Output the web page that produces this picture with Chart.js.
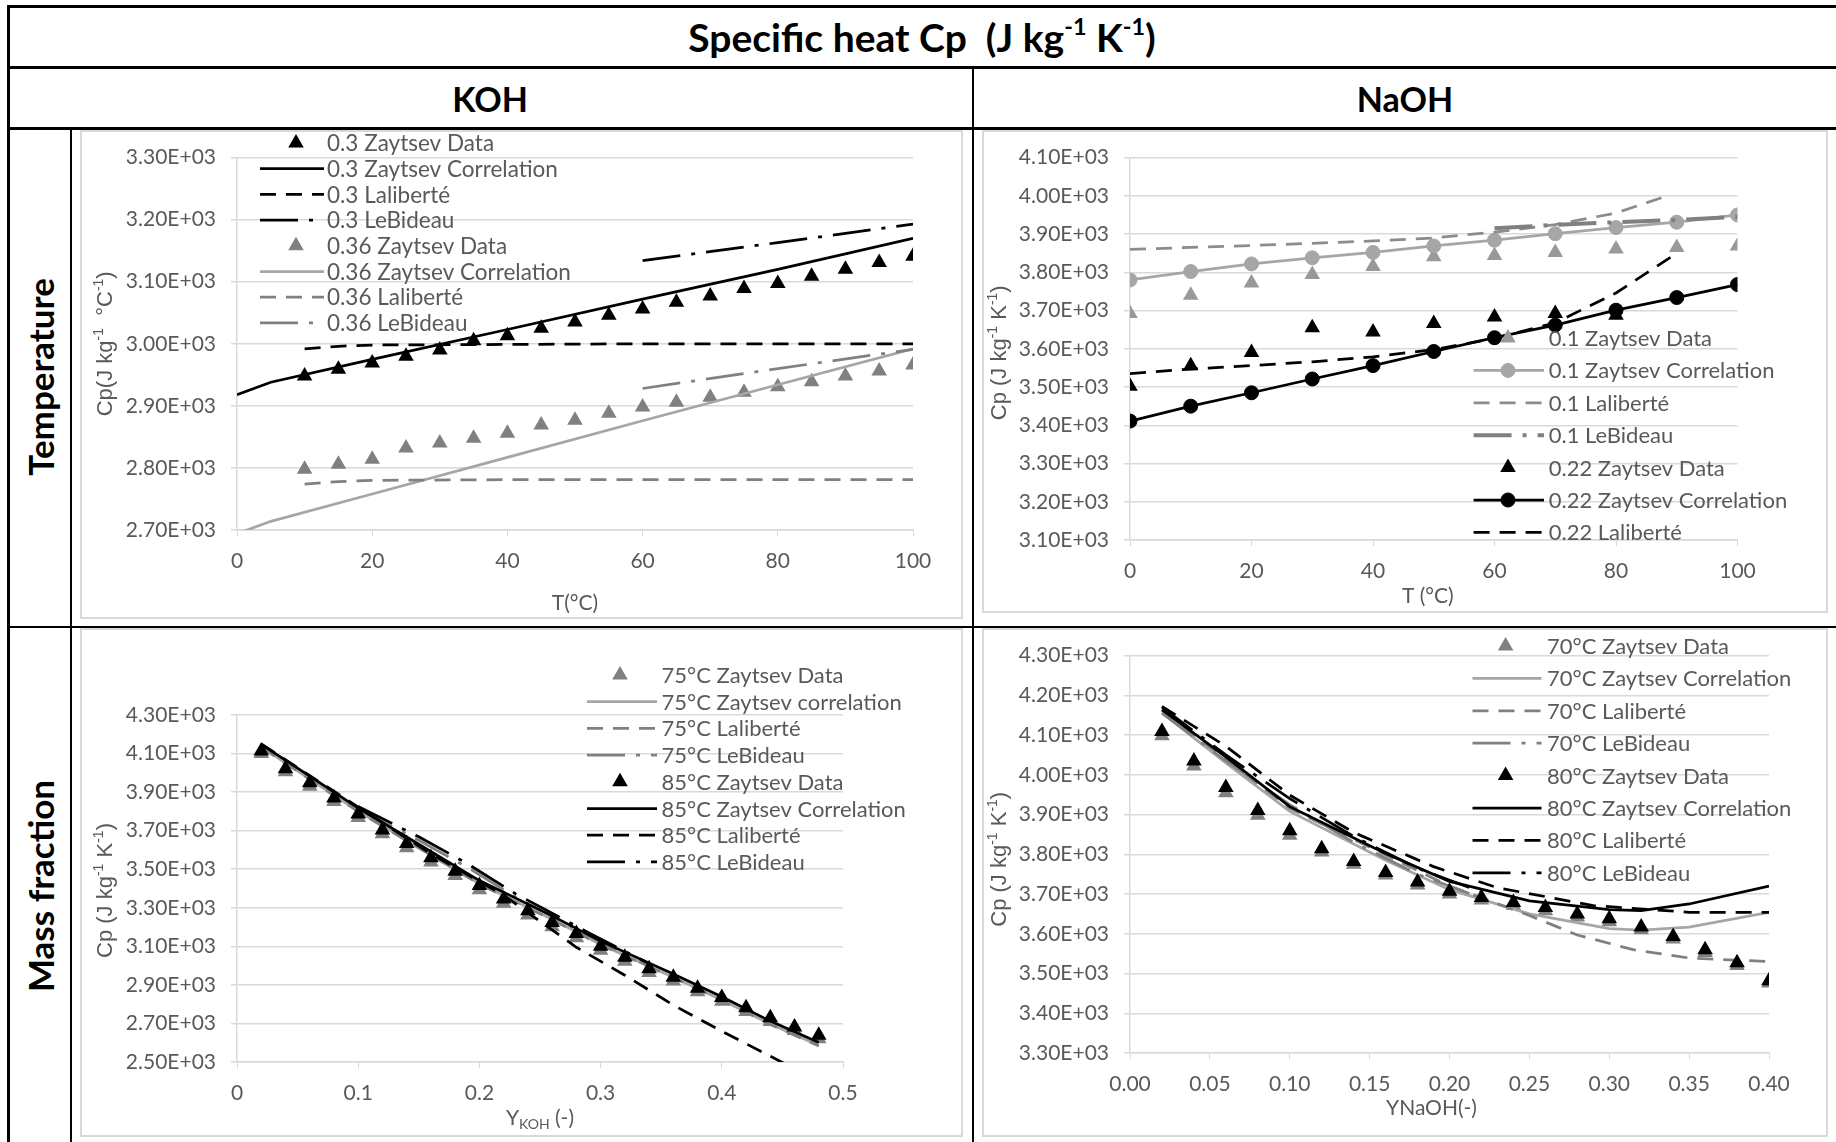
<!DOCTYPE html>
<html>
<head>
<meta charset="utf-8">
<script src="https://cdn.jsdelivr.net/npm/chart.js@4.4.0/dist/chart.umd.min.js"></script>
<style>
  body { margin:0; width:1836px; height:1142px; background:#fff; position:relative; overflow:hidden; font-family:Lato, sans-serif; }
  .ln { position:absolute; background:#000; }
  .box { position:absolute; border:2px solid #d9d9d9; box-sizing:border-box; pointer-events:none; }
  canvas { position:absolute; }
  .cell { position:absolute; display:flex; align-items:center; justify-content:center; font-weight:bold; color:#000; white-space:nowrap; }
  .cell sup { font-size:0.6em; position:relative; top:-0.45em; vertical-align:baseline; line-height:0; }
  .rot { transform:rotate(-90deg); }
</style>
</head>
<body>

<!-- table frame -->
<div class="ln" style="left:7px;top:5px;width:1829px;height:3px"></div>
<div class="ln" style="left:7px;top:5px;width:3px;height:1137px"></div>
<div class="ln" style="left:7px;top:66px;width:1829px;height:3px"></div>
<div class="ln" style="left:7px;top:127px;width:1829px;height:3px"></div>
<div class="ln" style="left:7px;top:626px;width:1829px;height:2px"></div>
<div class="ln" style="left:70px;top:128px;width:2px;height:1014px"></div>
<div class="ln" style="left:972px;top:67px;width:2px;height:1075px"></div>

<div class="cell" style="left:8px;top:8px;width:1828px;height:58px;font-size:39px">Specific heat Cp&nbsp; (J kg<sup>-1</sup>&nbsp;K<sup>-1</sup>)</div>
<div class="cell" style="left:8px;top:69px;width:964px;height:58px;font-size:34px">KOH</div>
<div class="cell" style="left:974px;top:69px;width:862px;height:58px;font-size:34px">NaOH</div>
<div class="cell rot" style="left:-210px;top:357px;width:500px;height:40px;font-size:35px">Temperature</div>
<div class="cell rot" style="left:-210px;top:866px;width:500px;height:40px;font-size:35px">Mass fraction</div>

<canvas id="c1" width="883" height="489" style="left:80px;top:130px"></canvas>
<canvas id="c2" width="846" height="483" style="left:982px;top:130px"></canvas>
<canvas id="c3" width="883" height="509" style="left:80px;top:628px"></canvas>
<canvas id="c4" width="846" height="509" style="left:982px;top:628px"></canvas>
<div class="box" style="left:80px;top:130px;width:883px;height:489px"></div>
<div class="box" style="left:982px;top:130px;width:846px;height:483px"></div>
<div class="box" style="left:80px;top:628px;width:883px;height:509px"></div>
<div class="box" style="left:982px;top:628px;width:846px;height:509px"></div>

<script>
// ---- KOH vs temperature ----
const tKOH = [10,15,20,25,30,35,40,45,50,55,60,65,70,75,80,85,90,95,100];
const koh30Data = [2948,2959,2969,2980,2990,3005,3013,3025,3035,3046,3056,3067,3077,3089,3097,3109,3120,3131,3141];
const koh36Data = [2798,2806,2814,2832,2840,2848,2856,2869,2877,2888,2898,2906,2914,2922,2931,2939,2948,2956,2966];
const tKOHCorr = [0,5,20,40,60,80,100];
const koh30Corr = [2918,2938,2975,3023,3072,3120,3170];
const koh36Corr = [2694,2714,2758,2817,2876,2934,2992];
const tKOHLal = [10,15,20,40,60,80,100];
const koh30Lal = [2992,2996,2998,2999,3000,3000,3000];
const koh36Lal = [2774,2778,2780,2781,2781,2781,2781];
const tKOHLeB = [60,80,100];
const koh30LeB = [3134,3163,3193];
const koh36LeB = [2928,2960,2991];

// ---- NaOH vs temperature ----
const tNa = [0,10,20,30,40,50,60,70,80,90,100];
const na10Data = [3692,3740,3772,3794,3815,3841,3844,3852,3861,3865,3869];
const na10Corr = [3780,3802,3822,3838,3852,3869,3884,3901,3917,3931,3950];
const tNaLal10 = [0,10,20,30,40,50,60,70,80,89];
const na10Lal = [3860,3865,3870,3876,3882,3890,3905,3925,3955,4003];
const tNaLeB = [60,70,80,90,100];
const na10LeB = [3915,3924,3931,3937,3945];
const tNaData22 = [0,10,20,30,40,50,60,70,80];
const na22Data = [3502,3556,3590,3655,3644,3666,3683,3692,3688];
const na22Corr = [3411,3450,3485,3521,3556,3593,3629,3662,3701,3734,3768];
const tNaLal22 = [0,10,20,30,40,50,60,70,80,90];
const na22Lal = [3535,3547,3556,3566,3579,3598,3627,3668,3746,3850];

// ---- KOH vs mass fraction ----
const yKOH = [0.02,0.04,0.06,0.08,0.10,0.12,0.14,0.16,0.18,0.20,0.22,0.24,0.26,0.28,0.30,0.32,0.34,0.36,0.38,0.40,0.42,0.44,0.46,0.48];
const k75Data = [4100,4005,3930,3851,3768,3684,3612,3538,3468,3393,3323,3262,3201,3144,3080,3022,2964,2920,2864,2815,2762,2710,2663,2620];
const k85Data = [4113,4021,3948,3869,3787,3703,3633,3560,3490,3415,3345,3284,3223,3166,3101,3043,2984,2939,2883,2834,2782,2729,2682,2639];
const yKOHCorr = [0.02,0.06,0.10,0.14,0.20,0.26,0.30,0.36,0.40,0.44,0.48];
const k75Corr = [4135,3968,3800,3650,3425,3240,3110,2940,2822,2697,2585];
const k85Corr = [4148,3983,3817,3667,3441,3258,3127,2956,2839,2712,2601];
const k75Lal = [4133,3966,3799,3648,3423,3238,3108,2938,2820,2695,2583];
const yKOHLal85 = [0.02,0.10,0.16,0.22,0.26,0.28,0.32,0.36,0.40,0.44,0.48];
const k85Lal = [4150,3822,3580,3365,3185,3095,2950,2795,2660,2530,2400];
const yKOHLeB = [0.10,0.15,0.19,0.23,0.29,0.34];
const k75LeB = [3810,3650,3510,3355,3155,2995];
const k85LeB = [3825,3668,3529,3372,3171,3010];

// ---- NaOH vs mass fraction ----
const yNa = [0.02,0.04,0.06,0.08,0.10,0.12,0.14,0.16,0.18,0.20,0.22,0.24,0.26,0.28,0.30,0.32,0.34,0.36,0.38,0.40];
const n70Data = [4098,4022,3955,3898,3848,3806,3775,3748,3723,3700,3685,3672,3658,3642,3630,3610,3587,3553,3520,3476];
const n80Data = [4109,4035,3968,3910,3859,3814,3782,3754,3730,3707,3691,3679,3666,3650,3638,3617,3593,3560,3527,3482];
const yNaCorr = [0.02,0.06,0.10,0.16,0.20,0.25,0.30,0.32,0.35,0.40];
const n70Corr = [4156,4030,3908,3785,3711,3650,3613,3609,3617,3654];
const n80Corr = [4164,4045,3920,3802,3732,3683,3661,3658,3675,3720];
const yNaLal70 = [0.02,0.10,0.20,0.25,0.28,0.315,0.35,0.40];
const n70Lal = [4162,3916,3720,3646,3597,3560,3539,3530];
const yNaLal80 = [0.02,0.06,0.10,0.14,0.19,0.23,0.29,0.35,0.40];
const n80Lal = [4172,4072,3949,3855,3769,3716,3671,3654,3654];
const yNaLeB = [0.02,0.06,0.10,0.14,0.18,0.22];
const n70LeB = [4155,4035,3925,3830,3750,3690];
const n80LeB = [4170,4050,3940,3845,3765,3705];

const BLACK = '#000000', GREY = '#808080', LIGHT = '#a6a6a6', TXT = '#595959';
const DASH = [16, 10], DASHDOT = [38, 11, 4, 11];
const TICK_FONT = { family: 'Lato', size: 21 };

function pts(xs, ys) { return xs.map((x, i) => ({ x: x, y: ys[i] })); }

function marks(label, xs, ys, color) {
  return { label, data: pts(xs, ys), showLine: false, pointStyle: 'triangle', pointRadius: 9,
    pointBackgroundColor: color, pointBorderColor: color, pointBorderWidth: 0, borderColor: color };
}
function line(label, xs, ys, color, dash, extra) {
  return Object.assign({ label, data: pts(xs, ys), showLine: true, borderColor: color, borderWidth: 2.75,
    borderDash: dash || [], pointRadius: 0, tension: 0 }, extra || {});
}
function withCircles(color) {
  return { pointStyle: 'circle', pointRadius: 7, pointBackgroundColor: color, pointBorderColor: color, pointBorderWidth: 1 };
}

function sci(v) {
  return v.toExponential(2).toUpperCase().replace(/E([+-])(\d)$/, 'E$10$2');
}

// draws text with super/subscript pieces, centred on (cx, cy)
function drawRich(ctx, parts, cx, cy, rot, size, family, color) {
  ctx.save();
  ctx.translate(cx, cy);
  ctx.rotate(rot);
  ctx.fillStyle = color;
  ctx.textBaseline = 'alphabetic';
  ctx.textAlign = 'left';
  const fonts = parts.map(p => (p.s ? Math.round(size * 0.65) : size) + 'px ' + family);
  let total = 0;
  const widths = parts.map((p, i) => { ctx.font = fonts[i]; const w = ctx.measureText(p.t).width; total += w; return w; });
  let x = -total / 2;
  parts.forEach((p, i) => {
    ctx.font = fonts[i];
    const dy = p.s === 'sup' ? -size * 0.4 : p.s === 'sub' ? size * 0.22 : 0;
    ctx.fillText(p.t, x, size * 0.36 + dy);
    x += widths[i];
  });
  ctx.restore();
}

const cellLegend = {
  id: 'cellLegend',
  afterDatasetsDraw(chart, args, o) {
    const ctx = chart.ctx;
    ctx.save();
    chart.data.datasets.forEach((ds, i) => {
      const y = o.y + i * o.dy;
      if (ds.showLine) {
        ctx.beginPath();
        ctx.setLineDash(ds.borderDash || []);
        ctx.lineWidth = ds.borderWidth;
        ctx.strokeStyle = ds.borderColor;
        ctx.moveTo(o.x, y);
        ctx.lineTo(o.x + o.w, y);
        ctx.stroke();
        ctx.setLineDash([]);
      }
      if (ds.pointRadius > 0) {
        ctx.fillStyle = ds.pointBackgroundColor;
        ctx.strokeStyle = ds.pointBorderColor;
        ctx.lineWidth = ds.pointBorderWidth;
        Chart.helpers.drawPoint(ctx, { pointStyle: ds.pointStyle, radius: ds.pointRadius, borderWidth: ds.pointBorderWidth, rotation: 0 }, o.mx, y);
      }
      ctx.fillStyle = TXT;
      ctx.font = o.size + 'px Lato';
      ctx.textBaseline = 'middle';
      ctx.textAlign = 'left';
      ctx.fillText(ds.label, o.tx, y + 1);
    });
    ctx.restore();
  }
};

const axisTitles = {
  id: 'axisTitles',
  afterDraw(chart, args, o) {
    const a = chart.chartArea, ctx = chart.ctx;
    drawRich(ctx, o.x.parts, (a.left + a.right) / 2 + (o.x.dx || 0), a.bottom + o.x.dy, 0, 21, 'Lato', TXT);
    drawRich(ctx, o.y.parts, o.y.x, (a.top + a.bottom) / 2 + (o.y.dy || 0), -Math.PI / 2, 22, '"Liberation Sans"', TXT);
  }
};

function makeChart(id, datasets, c) {
  datasets.forEach((d, i) => { d.order = datasets.length - i; });
  return new Chart(document.getElementById(id), {
    type: 'scatter',
    data: { datasets },
    options: {
      responsive: false, animation: false, devicePixelRatio: 1, events: [],
      layout: { padding: { top: c.padTop, right: c.padRight, left: 0, bottom: 0 } },
      plugins: { legend: { display: false }, tooltip: { enabled: false }, cellLegend: c.legend, axisTitles: c.titles },
      scales: {
        x: {
          type: 'linear', min: c.xMin, max: c.xMax,
          afterFit: s => { s.height = c.xH; },
          grid: { drawOnChartArea: false, color: '#d9d9d9', tickLength: 6 },
          border: { color: '#d9d9d9', width: 1.5 },
          ticks: { stepSize: c.xStep, padding: 13, color: TXT, font: TICK_FONT, maxRotation: 0, autoSkip: false, callback: c.xFmt }
        },
        y: {
          type: 'linear', min: c.yMin, max: c.yMax,
          afterFit: s => { s.width = c.yW; },
          grid: { color: '#d9d9d9', lineWidth: 1.5, tickLength: 6 },
          border: { color: '#d9d9d9', width: 1.5 },
          ticks: { stepSize: c.yStep, padding: 15, color: TXT, font: TICK_FONT, autoSkip: false, callback: v => sci(v) }
        }
      }
    },
    plugins: [cellLegend, axisTitles]
  });
}

const cpC = [{ t: 'Cp(J kg' }, { t: '-1', s: 'sup' }, { t: '  °C' }, { t: '-1', s: 'sup' }, { t: ')' }];
const cpK = [{ t: 'Cp (J kg' }, { t: '-1', s: 'sup' }, { t: ' K' }, { t: '-1', s: 'sup' }, { t: ')' }];

makeChart('c1', [
  marks('0.3 Zaytsev Data', tKOH, koh30Data, BLACK),
  line('0.3 Zaytsev Correlation', tKOHCorr, koh30Corr, BLACK),
  line('0.3 Laliberté', tKOHLal, koh30Lal, BLACK, DASH),
  line('0.3 LeBideau', tKOHLeB, koh30LeB, BLACK, DASHDOT),
  marks('0.36 Zaytsev Data', tKOH, koh36Data, GREY),
  line('0.36 Zaytsev Correlation', tKOHCorr, koh36Corr, LIGHT),
  line('0.36 Laliberté', tKOHLal, koh36Lal, GREY, DASH),
  line('0.36 LeBideau', tKOHLeB, koh36LeB, GREY, DASHDOT)
], {
  padTop: 21, padRight: 50, xH: 89, yW: 157,
  xMin: 0, xMax: 100, xStep: 20, xFmt: v => String(v),
  yMin: 2700, yMax: 3300, yStep: 100,
  legend: { x: 180, w: 64, mx: 216, tx: 247, y: 13, dy: 25.7, size: 22.5 },
  titles: { x: { parts: [{ t: 'T(°C)' }], dy: 72 }, y: { parts: cpC, x: 24 } }
});

makeChart('c2', [
  marks('0.1 Zaytsev Data', tNa, na10Data, '#999999'),
  line('0.1 Zaytsev Correlation', tNa, na10Corr, LIGHT, [], withCircles(LIGHT)),
  line('0.1 Laliberté', tNaLal10, na10Lal, '#8c8c8c', DASH),
  line('0.1 LeBideau', tNaLeB, na10LeB, GREY, DASHDOT, { borderWidth: 4 }),
  marks('0.22 Zaytsev Data', tNaData22, na22Data, BLACK),
  line('0.22 Zaytsev Correlation', tNa, na22Corr, BLACK, [], withCircles(BLACK)),
  line('0.22 Laliberté', tNaLal22, na22Lal, BLACK, DASH)
], {
  padTop: 24, padRight: 90.5, xH: 73, yW: 148,
  xMin: 0, xMax: 100, xStep: 20, xFmt: v => String(v),
  yMin: 3100, yMax: 4100, yStep: 100,
  legend: { x: 491.6, w: 70.4, mx: 526, tx: 566.7, y: 208, dy: 32.4, size: 22 },
  titles: { x: { parts: [{ t: 'T (°C)' }], dy: 55, dx: -6 }, y: { parts: cpK, x: 16, dy: 4 } }
});

makeChart('c3', [
  marks('75°C Zaytsev Data', yKOH, k75Data, GREY),
  line('75°C Zaytsev correlation', yKOHCorr, k75Corr, LIGHT),
  line('75°C Laliberté', yKOHCorr, k75Lal, GREY, DASH),
  line('75°C LeBideau', yKOHLeB, k75LeB, GREY, DASHDOT),
  marks('85°C Zaytsev Data', yKOH, k85Data, BLACK),
  line('85°C Zaytsev Correlation', yKOHCorr, k85Corr, BLACK),
  line('85°C Laliberté', yKOHLal85, k85Lal, BLACK, DASH),
  line('85°C LeBideau', yKOHLeB, k85LeB, BLACK, DASHDOT)
], {
  padTop: 87, padRight: 120, xH: 75, yW: 157,
  xMin: 0, xMax: 0.5, xStep: 0.1, xFmt: v => String(Number(v.toFixed(2))),
  yMin: 2500, yMax: 4300, yStep: 200,
  legend: { x: 507, w: 70, mx: 540, tx: 581.5, y: 47, dy: 26.7, size: 22 },
  titles: { x: { parts: [{ t: 'Y' }, { t: 'KOH', s: 'sub' }, { t: ' (-)' }], dy: 55 }, y: { parts: cpK, x: 24, dy: 2 } }
});

makeChart('c4', [
  marks('70°C Zaytsev Data', yNa, n70Data, GREY),
  line('70°C Zaytsev Correlation', yNaCorr, n70Corr, LIGHT),
  line('70°C Laliberté', yNaLal70, n70Lal, GREY, DASH),
  line('70°C LeBideau', yNaLeB, n70LeB, GREY, DASHDOT),
  marks('80°C Zaytsev Data', yNa, n80Data, BLACK),
  line('80°C Zaytsev Correlation', yNaCorr, n80Corr, BLACK),
  line('80°C Laliberté', yNaLal80, n80Lal, BLACK, DASH),
  line('80°C LeBideau', yNaLeB, n80LeB, BLACK, DASHDOT)
], {
  padTop: 15, padRight: 59, xH: 84, yW: 148,
  xMin: 0, xMax: 0.4, xStep: 0.05, xFmt: v => v.toFixed(2),
  yMin: 3300, yMax: 4300, yStep: 100,
  legend: { x: 490.5, w: 69, mx: 523.6, tx: 565, y: 18, dy: 32.4, size: 22 },
  titles: { x: { parts: [{ t: 'YNaOH(-)' }], dy: 54, dx: -18 }, y: { parts: cpK, x: 16, dy: 5 } }
});
</script>
</body>
</html>
